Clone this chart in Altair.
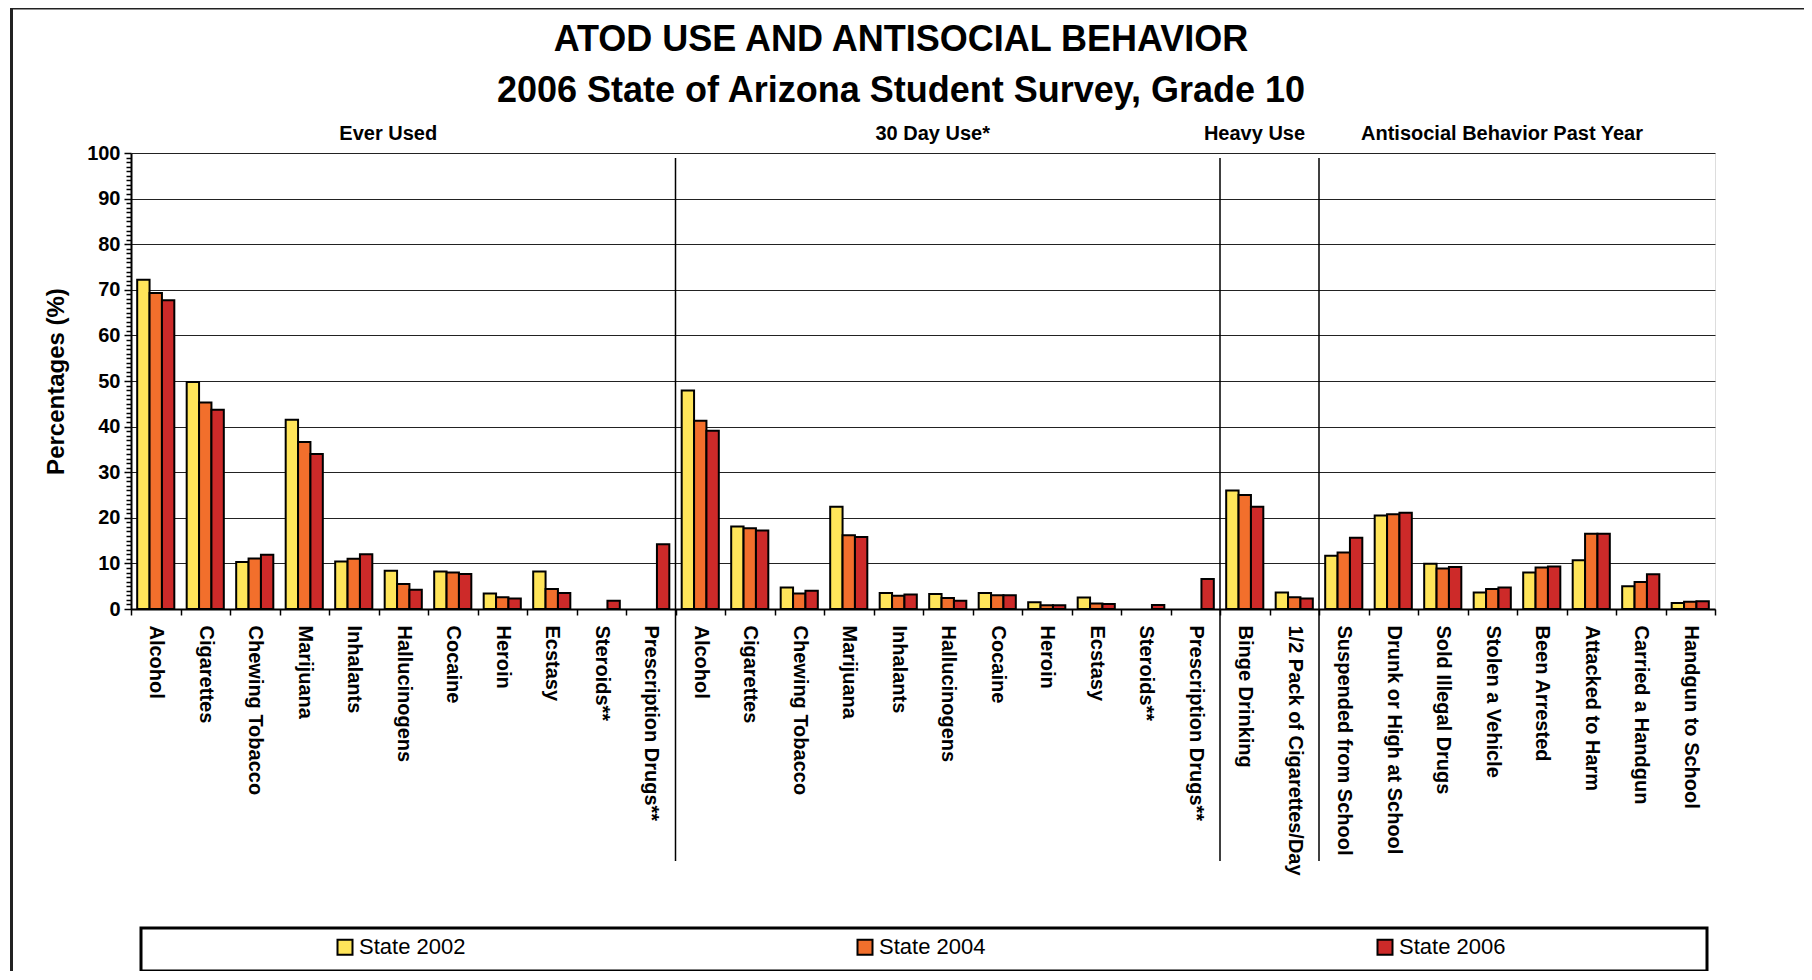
import altair as alt
import pandas as pd

FONT = "Liberation Sans"

sections = ["Ever Used", "30 Day Use*", "Heavy Use", "Antisocial Behavior Past Year"]

ever_items = ["Alcohol", "Cigarettes", "Chewing Tobacco", "Marijuana", "Inhalants",
              "Hallucinogens", "Cocaine", "Heroin", "Ecstasy", "Steroids**",
              "Prescription Drugs**"]
day30_items = ["Alcohol", "Cigarettes", "Chewing Tobacco", "Marijuana", "Inhalants",
               "Hallucinogens", "Cocaine", "Heroin", "Ecstasy", "Steroids**",
               "Prescription Drugs**"]
heavy_items = ["Binge Drinking", "1/2 Pack of Cigarettes/Day"]
anti_items = ["Suspended from School", "Drunk or High at School", "Sold Illegal Drugs",
              "Stolen a Vehicle", "Been Arrested", "Attacked to Harm",
              "Carried a Handgun", "Handgun to School"]

years = ["State 2002", "State 2004", "State 2006"]
colors = ["#FFE55A", "#F26F2C", "#CD2A29"]

ever_2002 = [72.2, 49.8, 10.3, 41.5, 10.4, 8.4, 8.2, 3.4, 8.2, None, None]
ever_2004 = [69.3, 45.3, 11.1, 36.6, 11.0, 5.5, 8.0, 2.6, 4.4, None, None]
ever_2006 = [67.7, 43.7, 11.9, 34.0, 12.0, 4.2, 7.7, 2.3, 3.5, 1.8, 14.2]

day30_2002 = [47.9, 18.1, 4.7, 22.4, 3.5, 3.3, 3.5, 1.5, 2.5, None, None]
day30_2004 = [41.3, 17.7, 3.4, 16.2, 2.9, 2.4, 3.0, 0.8, 1.2, None, None]
day30_2006 = [39.1, 17.2, 4.0, 15.8, 3.2, 1.8, 3.0, 0.8, 1.1, 0.9, 6.6]

heavy_2002 = [26.0, 3.6]
heavy_2004 = [25.0, 2.6]
heavy_2006 = [22.4, 2.3]

anti_2002 = [11.7, 20.5, 9.9, 3.6, 8.0, 10.7, 5.0, 1.3]
anti_2004 = [12.4, 20.8, 8.9, 4.4, 9.1, 16.5, 5.9, 1.6]
anti_2006 = [15.6, 21.1, 9.2, 4.7, 9.3, 16.5, 7.6, 1.7]

section_items = [ever_items, day30_items, heavy_items, anti_items]
section_values = [
    [ever_2002, ever_2004, ever_2006],
    [day30_2002, day30_2004, day30_2006],
    [heavy_2002, heavy_2004, heavy_2006],
    [anti_2002, anti_2004, anti_2006],
]

rows = []
keys = []
sec_rows = []
start = 0
for sec, items, vals in zip(sections, section_items, section_values):
    for i, item in enumerate(items):
        key = f"{sec}|{item}"
        keys.append(key)
        for y, series in zip(years, vals):
            rows.append({"key": key, "year": y, "value": series[i]})
    sec_rows.append({"section": sec, "start": start, "mid": start + len(items) / 2})
    start += len(items)
n_total = start

df = pd.DataFrame(rows)
sec_df = pd.DataFrame(sec_rows)
div_df = sec_df[sec_df["start"] > 0]

W, H = 1584, 456

bars = alt.Chart(df).mark_bar(stroke="black", strokeWidth=2).encode(
    x=alt.X("key:N", sort=keys, title=None,
            scale=alt.Scale(paddingInner=0, paddingOuter=0),
            axis=alt.Axis(labelExpr="split(datum.label, '|')[1]", labelAngle=90,
                          labelAlign="left", labelBaseline="middle", labelFont=FONT,
                          labelFontSize=20, labelFontWeight="bold", labelColor="black",
                          labelPadding=10, labelLimit=400, labelOverlap=False,
                          tickBand="extent", tickSize=6, tickColor="black", tickWidth=1.5,
                          domainColor="black", domainWidth=2, grid=False)),
    xOffset=alt.XOffset("year:N", sort=years,
                        scale=alt.Scale(paddingOuter=0.5, paddingInner=0)),
    y=alt.Y("value:Q", title="Percentages (%)",
            scale=alt.Scale(domain=[0, 100], nice=False),
            axis=alt.Axis(values=list(range(0, 101)),
                          labelExpr="datum.value % 10 === 0 ? datum.label : ''",
                          labelOverlap=False, labelFont=FONT, labelFontSize=20,
                          labelFontWeight="bold", labelColor="black", labelPadding=4,
                          tickColor="black", tickWidth=1.5,
                          tickSize={"condition": {"test": "datum.value % 10 === 0", "value": 7}, "value": 5},
                          domainColor="black", domainWidth=2,
                          grid=True, gridColor="#222222", gridWidth=1,
                          gridOpacity={"condition": {"test": "datum.value % 10 === 0", "value": 1}, "value": 0},
                          titleFont=FONT, titleFontSize=24, titleFontWeight="bold",
                          titleColor="black", titlePadding=18)),
    color=alt.Color("year:N", sort=years,
                    scale=alt.Scale(domain=years, range=colors),
                    legend=alt.Legend(title=None, orient="none", legendX=203, legendY=783,
                                      direction="horizontal", columns=3, columnPadding=387,
                                      symbolType="square", symbolSize=225,
                                      symbolStrokeColor="black", symbolStrokeWidth=2,
                                      symbolOpacity=1, labelFont=FONT, labelFontSize=22,
                                      labelColor="black", labelOffset=3, padding=0)),
)

xq = alt.Scale(domain=[0, n_total], nice=False, zero=True)

rules = alt.Chart(div_df).mark_rule(color="black", strokeWidth=1.5).encode(
    x=alt.X("start:Q", scale=xq, axis=None),
    y=alt.value(5),
    y2=alt.value(708),
)

headers = alt.Chart(sec_df).mark_text(font=FONT, fontSize=20, fontWeight="bold",
                                      color="black", dx=-15).encode(
    x=alt.X("mid:Q", scale=xq, axis=None),
    y=alt.value(-19),
    text="section:N",
)

box = alt.Chart(alt.Data(values=[{"a": 1}])).mark_rect(
    fillOpacity=0, stroke="black", strokeWidth=3).encode(
    x=alt.value(10), x2=alt.value(1576), y=alt.value(775), y2=alt.value(818),
)

# page frame (dark border at left and top, as in the reference)
frame_left = alt.Chart(alt.Data(values=[{"a": 1}])).mark_rule(
    color="#222222", strokeWidth=3).encode(
    x=alt.value(-119.5), y=alt.value(-146), y2=alt.value(830),
)
frame_top = alt.Chart(alt.Data(values=[{"a": 1}])).mark_rule(
    color="#222222", strokeWidth=3).encode(
    x=alt.value(-121), x2=alt.value(1700), y=alt.value(-145),
)

chart = alt.layer(bars, rules, headers, box, frame_left, frame_top).resolve_scale(
    x="independent").properties(
    width=W, height=H,
    padding={"left": 123, "top": 145, "right": 89, "bottom": 362},
    autosize=alt.AutoSizeParams(type="none"),
    title=alt.TitleParams(["ATOD USE AND ANTISOCIAL BEHAVIOR",
                           "2006 State of Arizona Student Survey, Grade 10"],
                          font=FONT, fontSize=36, fontWeight="bold", color="black",
                          anchor="middle", frame="group", lineHeight=51, offset=-104, dx=-22),
).configure_view(stroke="black", strokeWidth=2).configure(background="white")

chart.save("out.html", embed_options={"renderer": "svg", "actions": False})
